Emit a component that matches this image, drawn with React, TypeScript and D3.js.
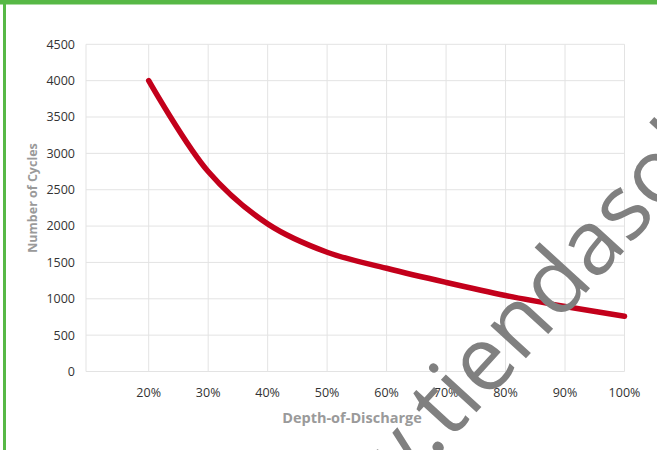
import React from "react";
import * as d3 from "d3";

const depthOfDischarge = [0.2, 0.3, 0.4, 0.5, 0.6, 0.7, 0.8, 0.9, 1.0];
const cycles = [4000, 2750, 2030, 1640, 1420, 1225, 1045, 895, 760];
const xTicks = [0.2, 0.3, 0.4, 0.5, 0.6, 0.7, 0.8, 0.9, 1.0];
const yTicks = [0, 500, 1000, 1500, 2000, 2500, 3000, 3500, 4000, 4500];
const xTitle = "Depth-of-Discharge";
const yTitle = "Number of Cycles";
const watermarkLead = "www.";
const watermarkRest = "tiendasolar.es";

const W = 657;
const H = 450;
const font = "'Open Sans', 'DejaVu Sans', sans-serif";

export default function App() {
  const x = d3.scaleLinear().domain([0.0946, 1.0]).range([86, 624.5]);
  const y = d3.scaleLinear().domain([0, 4500]).range([371.5, 44.3]);
  const pts = depthOfDischarge.map((d, i) => [x(d), y(cycles[i])] as [number, number]);
  const line = d3.line().curve(d3.curveCatmullRom.alpha(0.5))(pts) || "";
  const grid = "#e3e3e3";
  const ang = -47.5;
  const wx = 449.6;
  const wy = 441.6;

  return (
    <svg
      width={W}
      height={H}
      style={{ position: "absolute", left: 0, top: 0, background: "#fff" }}
    >
      <rect x={0} y={0} width={W} height={H} fill="#fff" />
      {/* grid */}
      {yTicks.map((t) => (
        <line key={"gy" + t} x1={x.range()[0]} x2={x.range()[1]} y1={y(t)} y2={y(t)} stroke={grid} strokeWidth={1} />
      ))}
      <line x1={x.range()[0]} x2={x.range()[0]} y1={y(4500)} y2={y(0)} stroke={grid} strokeWidth={1} />
      {xTicks.map((t) => (
        <line key={"gx" + t} x1={x(t)} x2={x(t)} y1={y(4500)} y2={y(0)} stroke={grid} strokeWidth={1} />
      ))}
      {/* y labels */}
      {yTicks.map((t) => (
        <text key={"ly" + t} x={75} y={y(t)} dy="0.35em" textAnchor="end" fontFamily={font} fontSize={12.5} fill="#333">
          {t}
        </text>
      ))}
      {/* x labels */}
      {xTicks.map((t) => (
        <text key={"lx" + t} x={x(t)} y={396.5} textAnchor="middle" fontFamily={font} fontSize={12.5} fill="#333">
          {Math.round(t * 100) + "%"}
        </text>
      ))}
      <text x={352} y={423} textAnchor="middle" fontFamily={font} fontSize={14.5} fontWeight="bold" fill="#9a9a9a">
        {xTitle}
      </text>
      <text
        transform={`translate(37,198) rotate(-90)`}
        textAnchor="middle"
        fontFamily={font}
        fontSize={12.5}
        fontWeight="bold"
        fill="#9a9a9a"
      >
        {yTitle}
      </text>
      {/* curve */}
      <path d={line} fill="none" stroke="#c3001b" strokeWidth={5.5} strokeLinecap="round" strokeLinejoin="round" />
      {/* watermark */}
      <g transform={`translate(${wx},${wy}) rotate(${ang})`} fontFamily={font} fontSize={90} fill="#808080">
        <text x={0} y={0} textAnchor="end">{watermarkLead}</text>
        <text x={0} y={0} textAnchor="start">{watermarkRest}</text>
      </g>
      {/* green frame */}
      <rect x={0} y={0} width={W} height={4.5} fill="#57b846" />
      <rect x={3} y={0} width={3} height={H} fill="#57b846" />
    </svg>
  );
}
